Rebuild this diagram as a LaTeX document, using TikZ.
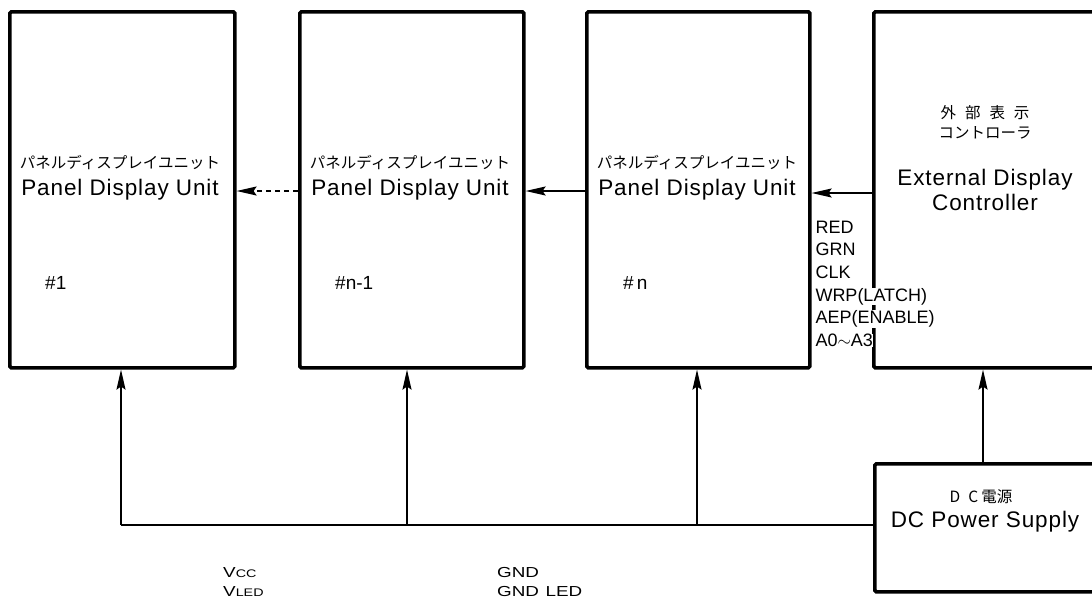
\documentclass[tikz,border=0pt]{standalone}
\usepackage{fontspec}
\setmainfont{Liberation Sans}
\newfontfamily\cjk{Noto Sans CJK JP}
\newfontfamily\wide[LetterSpace=4]{Liberation Sans}
\usetikzlibrary{arrows.meta}
\newcommand{\ext}[1]{\scalebox{1.3}[1]{#1}}
\begin{document}
\begin{tikzpicture}[x=1pt,y=-1pt,
  box/.style={draw, line width=3.6pt, rectangle, inner sep=0pt, rounded corners=1.5pt},
  conn/.style={line width=1.4pt},
  arr/.style={conn, -{Stealth[length=20pt,width=9pt,inset=3pt]}},
  jp/.style={font=\cjk\fontsize{15.5}{18}\selectfont, inner sep=0pt},
  en/.style={font=\wide\fontsize{22.5}{26}\selectfont, inner sep=0pt, anchor=base},
  sig/.style={font=\fontsize{18}{20}\selectfont, inner sep=0.3pt, anchor=base west, fill=white},
  num/.style={font=\fontsize{19}{22}\selectfont, inner sep=0pt, anchor=base west},
  pw/.style={font=\fontsize{14.5}{16}\selectfont, inner sep=0pt, anchor=base west}
]
\useasboundingbox (0,0) rectangle (1092,605);
\clip (0,0) rectangle (1092,605);

% boxes
\node[box, anchor=north west, minimum width=225pt, minimum height=356pt] (b1) at (8,10) {};
\node[box, anchor=north west, minimum width=224pt, minimum height=356pt] (b2) at (298,10) {};
\node[box, anchor=north west, minimum width=223pt, minimum height=356pt] (b3) at (585,10) {};
\node[box, anchor=north west, minimum width=260pt, minimum height=356pt] (b4) at (872,10) {};
\node[box, anchor=north west, minimum width=260pt, minimum height=128pt] (ps) at (873,462) {};

% box texts
\node[jp] (j1) at (120,162) {パネルディスプレイユニット};
\node[en] (e1) at (120,195) {Panel Display Unit};
\node[num] (n1) at (45,289) {\#1};
\node[jp] (j2) at (410,162) {パネルディスプレイユニット};
\node[en] (e2) at (410,195) {Panel Display Unit};
\node[num] (n2) at (335,289) {\#n-1};
\node[jp] (j3) at (697,162) {パネルディスプレイユニット};
\node[en] (e3) at (697,195) {Panel Display Unit};
\node[num] (n3) at (623,289) {\#\hspace{3pt}n};

\node[jp] (j4a) at (985,113) {外\hspace{9pt}部\hspace{9pt}表\hspace{9pt}示};
\node[jp] (j4b) at (985,133) {コントローラ};
\node[en] (e4a) at (985,185) {External Display};
\node[en] (e4b) at (985,210) {Controller};

\node[jp] (jps) at (981,497) {D\hspace{8pt}C\hspace{3pt}電源};
\node[en] (eps) at (985,527) {DC Power Supply};

% signal labels
\node[sig] (s1) at (815,233) {RED};
\node[sig] (s2) at (815,255.7) {GRN};
\node[sig] (s3) at (815,278.4) {CLK};
\node[sig] (s4) at (815,301.1) {WRP(LATCH)};
\node[sig] (s5) at (815,323.8) {AEP(ENABLE)};
\node[sig] (s6) at (815,346.5) {A0$\sim$A3};

% power labels
\node[pw] (v1) at (223,577) {\ext{V{\fontsize{11}{12}\selectfont CC}}};
\node[pw] (v2) at (223,596) {\ext{V{\fontsize{11}{12}\selectfont LED}}};
\node[pw] (g1) at (497,577) {\ext{GND}};
\node[pw] (g2) at (497,596) {\ext{GND\hspace{5pt}LED}};

% signal arrows
\coordinate (ya) at (0,193);
\coordinate (yb) at (0,191);
\draw[arr] (b4.west |- ya) -- (b3.east |- ya);
\draw[arr] (b3.west |- yb) -- (b2.east |- yb);
\draw[arr, dash pattern=on 5pt off 4pt] (b2.west |- yb) -- (b1.east |- yb);

% power bus
\coordinate (k1) at (121,525);
\coordinate (k2) at (407,525);
\coordinate (k3) at (697,525);
\coordinate (k4) at (983,0);
\draw[conn] (k1) -- (ps.west |- k1);
\draw[arr] (k1) -- (b1.south -| k1);
\draw[arr] (k2) -- (b2.south -| k2);
\draw[arr] (k3) -- (b3.south -| k3);
\draw[arr] (ps.north -| k4) -- (b4.south -| k4);
\end{tikzpicture}
\end{document}
